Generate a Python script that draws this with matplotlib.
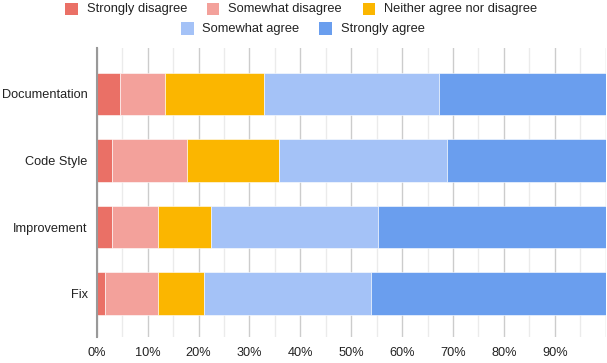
import numpy as np
import matplotlib
matplotlib.use('Agg')
import matplotlib.pyplot as plt
from matplotlib.patches import Rectangle
from matplotlib.ticker import MultipleLocator, FuncFormatter

plt.rcParams['font.family'] = ['Liberation Sans', 'DejaVu Sans']

# data (percent of answers)
categories = ['Documentation', 'Code Style', 'Improvement', 'Fix']
series = ['Strongly disagree', 'Somewhat disagree', 'Neither agree nor disagree',
          'Somewhat agree', 'Strongly agree']
strongly_disagree = [4.6, 3.0, 3.0, 1.6]
somewhat_disagree = [8.9, 14.8, 9.0, 10.4]
neither = [19.3, 18.0, 10.5, 9.0]
somewhat_agree = [34.4, 33.0, 32.8, 32.8]
strongly_agree = [32.8, 31.2, 44.7, 46.2]
colors = ['#ea7066', '#f3a19b', '#fbb600', '#a4c2f7', '#6a9eee']

values = [strongly_disagree, somewhat_disagree, neither, somewhat_agree, strongly_agree]

W, H = 607, 363
fig = plt.figure(figsize=(W / 100, H / 100), dpi=100)
ax = fig.add_axes([96.7 / W, 1 - 337 / H, 509 / W, 288.7 / H])

y = np.arange(len(categories))
left = np.zeros(len(categories))
for name, vals, c in zip(series, values, colors):
    ax.barh(y, vals, left=left, height=0.64, color=c, label=name,
            edgecolor='white', linewidth=0.4, zorder=3)
    left += np.array(vals)

ax.set_xlim(0, 100)
ax.set_ylim(3.654, -0.687)
ax.set_yticks(y)
ax.set_yticklabels(categories)
ax.xaxis.set_major_locator(MultipleLocator(10))
ax.xaxis.set_minor_locator(MultipleLocator(5))
ax.xaxis.set_major_formatter(FuncFormatter(lambda v, p: '' if v >= 100 else f'{v:.0f}%'))
ax.grid(axis='x', which='major', color='#cccccc', linewidth=1, zorder=0)
ax.grid(axis='x', which='minor', color='#ebebeb', linewidth=1, zorder=0)
ax.tick_params(axis='both', which='both', length=0, labelsize=9.2, colors='#222222')
ax.tick_params(axis='y', pad=6.5)
ax.tick_params(axis='x', pad=7)
for s in ['top', 'right', 'bottom']:
    ax.spines[s].set_visible(False)
ax.spines['left'].set_color('#999999')
ax.spines['left'].set_linewidth(1.5)
ax.spines['left'].set_zorder(4)

# legend, two centred rows (pixel layout of the original)
leg_x = [65.3, 206.7, 362.7, 181, 319.3]
leg_y = [9, 9, 9, 28.7, 28.7]
box = 12.7
for name, c, lx, ly in zip(series, colors, leg_x, leg_y):
    fig.add_artist(Rectangle((lx / W, 1 - (ly + box / 2) / H), box / W, box / H,
                             transform=fig.transFigure, color=c, lw=0))
    fig.text((lx + 21.5) / W, 1 - ly / H, name, fontsize=9.3, color='#222222',
             ha='left', va='center')

fig.savefig('out.png', dpi=100)
